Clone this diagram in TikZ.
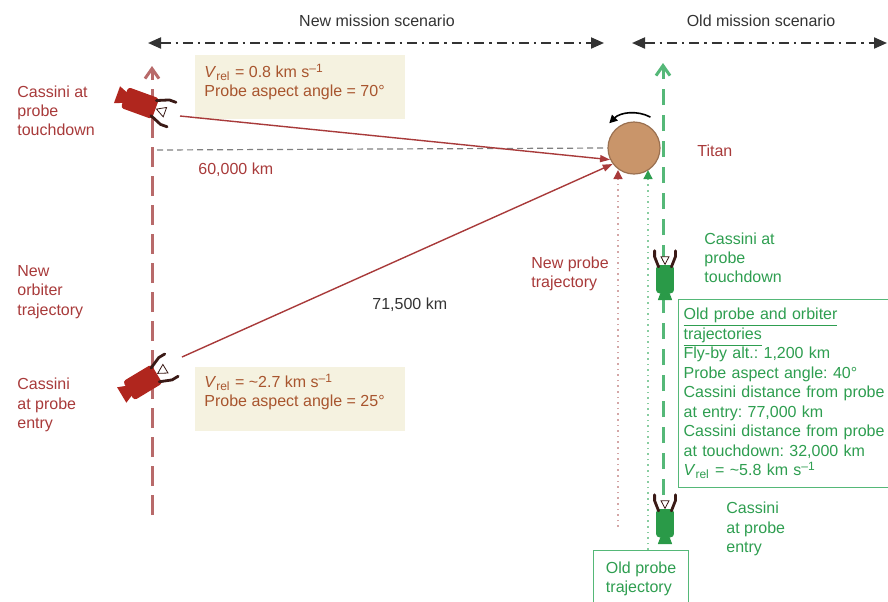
\documentclass[tikz,border=0pt]{standalone}
\usepackage{fontspec}
\setmainfont{Liberation Sans}
\usetikzlibrary{arrows.meta}

\definecolor{newred}{HTML}{A83A3A}
\definecolor{newtraj}{HTML}{B86A6A}
\definecolor{infotext}{HTML}{A8552E}
\definecolor{infofill}{HTML}{F5F2E0}
\definecolor{oldgreen}{HTML}{2E9E50}
\definecolor{oldtraj}{HTML}{55B878}
\definecolor{titanfill}{HTML}{C9956A}
\definecolor{titanedge}{HTML}{9A7050}
\definecolor{scalegray}{HTML}{333333}
\definecolor{craftred}{HTML}{B0261E}
\definecolor{craftgreen}{HTML}{2A9A48}
\definecolor{craftarm}{HTML}{3A1A16}

% spacecraft icon, pointing along +x
\tikzset{
  cassini/.pic={
    \path[pic actions] (-33,-9) -- (-33,9) -- (-23,5) -- (-23,-5) -- cycle;
    \path[pic actions, rounded corners=1.5pt] (-25,-11) rectangle (8,11);
    \draw[craftarm, line width=1.4pt, line cap=round] (6,-8) -- (18,-13) -- (25,-13);
    \draw[craftarm, line width=1.4pt, line cap=round] (6,8) -- (18,13) -- (25,13);
    \filldraw[fill=white, draw=craftarm, line width=0.4pt] (9,0) -- (18,-5) -- (18,5) -- cycle;
  }
}

\begin{document}
\frenchspacing
\begin{tikzpicture}[x=0.5pt, y=-0.5pt,
    txt/.style={font=\fontsize{8}{9.6}\selectfont, align=left, inner sep=0pt, anchor=west},
    newtxt/.style={txt, text=newred},
    oldtxt/.style={txt, text=oldgreen},
    infotxt/.style={txt, text=infotext},
    span/.style={draw=scalegray, line width=1pt, dash pattern=on 5pt off 2.5pt on 1.2pt off 2.5pt,
      {Triangle[length=6.5pt,width=5.5pt]}-{Triangle[length=6.5pt,width=5.5pt]}},
    neworbit/.style={draw=newtraj, line width=1.5pt, dash pattern=on 10pt off 4.5pt,
      -{Straight Barb[length=5pt,width=7pt]}},
    oldorbit/.style={draw=oldtraj, line width=1.5pt, dash pattern=on 8pt off 5pt,
      -{Straight Barb[length=5pt,width=7pt]}},
    newprobe/.style={draw=newtraj!60, line width=0.8pt, dotted,
      -{Triangle[length=4.5pt,width=4.5pt,color=newred]}},
    oldprobe/.style={draw=oldtraj!70, line width=0.8pt, dotted,
      -{Triangle[length=4.5pt,width=4.5pt,color=oldgreen]}},
    link/.style={draw=newred, line width=0.7pt, -{Triangle[length=5pt,width=3.5pt]}},
    refline/.style={draw=gray, line width=0.6pt, dash pattern=on 3pt off 2pt},
    infobox/.style={fill=infofill, minimum width=105pt, minimum height=32pt, anchor=north west, inner sep=0pt},
    oldbox/.style={draw=oldtraj, line width=0.6pt, fill=white, anchor=north west}]

    \useasboundingbox (0,0) rectangle (888,601);

    % scenario headers
    \node[txt, anchor=center, text=scalegray] (newhead) at (377,21) {New mission scenario};
    \node[txt, anchor=center, text=scalegray] (oldhead) at (761,21) {Old mission scenario};
    \coordinate (newspanL) at (148,43);
    \coordinate (newspanR) at (604,43);
    \coordinate (oldspanL) at (632,43);
    \coordinate (oldspanR) at (887,43);
    \draw[span] (newspanL) -- (newspanR);
    \draw[span] (oldspanL) -- (oldspanR);

    % Titan
    \node[circle, draw=titanedge, fill=titanfill, minimum size=26pt, inner sep=0pt, line width=0.6pt] (titan) at (634,148) {};
    \draw[line width=0.8pt, -{Triangle[length=4pt,width=4pt]}] (titan.center) ++(-62:35) arc[start angle=-62, end angle=-135, radius=35];
    \node[newtxt] (titanlbl) at (697,151) {Titan};

    % info boxes, new scenario
    \node[infobox] (tdbox) at (195,55) {};
    \node[infotxt] (tdinfo) at (204,82) {\textit{V}\textsubscript{rel} = 0.8 km s\textsuperscript{--1}\\Probe aspect angle = 70°};
    \node[infobox] (entbox) at (195,367) {};
    \node[infotxt] (entinfo) at (204,392) {\textit{V}\textsubscript{rel} = \textasciitilde2.7 km s\textsuperscript{--1}\\Probe aspect angle = 25°};

    % new orbiter trajectory
    \coordinate (neworbbot) at (152,515);
    \coordinate (neworbtop) at (152,66);
    \draw[neworbit] (neworbbot) -- (neworbtop);
    \coordinate (refstart) at (157,150);
    \draw[refline] (refstart) -- (titan.180);
    \node[newtxt] (altlbl) at (198,170) {60,000 km};

    % links to Titan
    \coordinate (tdfront) at (180,116);
    \coordinate (entfront) at (182,357);
    \draw[link] (tdfront) -- (titan.206);
    \draw[link] (entfront) -- (titan.217);
    \node[txt, text=scalegray] (distlbl) at (372,305) {71,500 km};

    % probe trajectories
    \coordinate (newprobebot) at (618,527);
    \draw[newprobe] (newprobebot) -- (newprobebot |- titan.236);
    \node[newtxt] (newprobelbl) at (531,274) {New probe\\trajectory};
    \node[oldbox, minimum width=47.5pt, minimum height=28pt, align=left, font=\fontsize{8}{9.6}\selectfont, text=oldgreen] (oldprobebox) at (593,550) {Old probe\\trajectory};
    \coordinate (oldprobebot) at (648,550);
    \draw[oldprobe] (oldprobebot) -- (oldprobebot |- titan.304);

    % old orbiter trajectory
    \coordinate (oldorbbot) at (663,495);
    \coordinate (oldorbtop) at (663,63);
    \draw[oldorbit] (oldorbbot) -- (oldorbtop);

    % old scenario data
    \node[oldbox, text width=107pt, minimum height=94pt, inner sep=2.5pt, align=left, font=\fontsize{8}{9.75}\selectfont, text=oldgreen] (oldinfo) at (678,299)
      {\underline{Old probe and orbiter}\\\underline{trajectories}\\Fly-by alt.: 1,200 km\\Probe aspect angle: 40°\\Cassini distance from probe\\at entry: 77,000 km\\Cassini distance from probe\\at touchdown: 32,000 km\\\textit{V}\textsubscript{rel} = \textasciitilde5.8 km s\textsuperscript{--1}};

    % spacecraft
    \pic[fill=craftred, rotate=-20] (tdcraft) at (148,106) {cassini};
    \pic[fill=craftred, rotate=31] (entcraft) at (150,378) {cassini};
    \pic[fill=craftgreen, rotate=90, xscale=0.85, yscale=0.8] (oldtdcraft) at (665,272) {cassini};
    \pic[fill=craftgreen, rotate=90, xscale=0.85, yscale=0.8] (oldentcraft) at (665,516) {cassini};

    % side labels
    \node[newtxt] (tdlbl) at (17,111) {Cassini at\\probe\\touchdown};
    \node[newtxt] (orblbl) at (17,292) {New\\orbiter\\trajectory};
    \node[newtxt] (entlbl) at (17,405) {Cassini\\at probe\\entry};
    \node[oldtxt] (oldtdlbl) at (704,258) {Cassini at\\probe\\touchdown};
    \node[oldtxt] (oldentlbl) at (726,529) {Cassini\\at probe\\entry};
\end{tikzpicture}
\end{document}
